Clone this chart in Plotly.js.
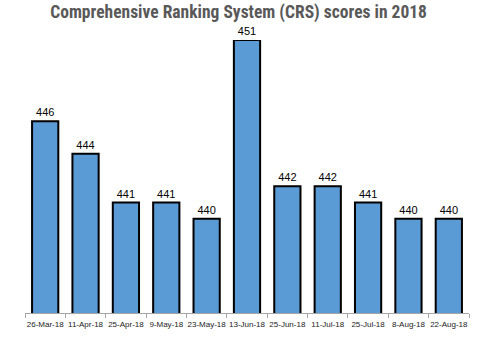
<!DOCTYPE html>
<html><head><meta charset="utf-8">
<script src="https://cdn.plot.ly/plotly-3.0.1.min.js"></script>
<style>body{margin:0;background:#fff}#c{width:481px;height:352px}</style>
</head><body><div id="c"></div>
<script>
const dates = ["26-Mar-18","11-Apr-18","25-Apr-18","9-May-18","23-May-18","13-Jun-18","25-Jun-18","11-Jul-18","25-Jul-18","8-Aug-18","22-Aug-18"];
const scores = [446,444,441,441,440,451,442,442,441,440,440];

Plotly.newPlot('c', [{
  type:'bar', x:dates, y:scores,
  text:scores.map(String), textposition:'outside', cliponaxis:false,
  textfont:{family:'Liberation Sans, Arial, sans-serif', size:11, color:'#000'},
  marker:{color:'#5B9BD5', line:{color:'#000', width:2}}
}], {
  width:481, height:352,
  margin:{l:25, r:12, t:40, b:39},
  bargap:0.35,
  paper_bgcolor:'#fff', plot_bgcolor:'#fff',
  title:{text:'<b>Comprehensive Ranking System (CRS) scores in 2018</b>', x:0.496, xanchor:'center', y:0.985, yanchor:'top',
    font:{family:'Liberation Sans Narrow, Roboto Condensed, Arial Narrow, sans-serif', size:17.5, color:'#595959'}},
  xaxis:{type:'category', showline:true, linecolor:'#A6A6A6', linewidth:1, ticks:'outside', tickson:'boundaries', ticklen:4, tickcolor:'#A6A6A6',
    tickangle:0, automargin:false, ticklabelstandoff:3,
    tickfont:{family:'Liberation Sans Narrow, Arial Narrow, sans-serif', size:8, color:'#222'}, showgrid:false, fixedrange:true},
  yaxis:{range:[434.2,451], visible:false, showgrid:false, zeroline:false},
  showlegend:false
}, {displayModeBar:false, staticPlot:true});
</script></body></html>
